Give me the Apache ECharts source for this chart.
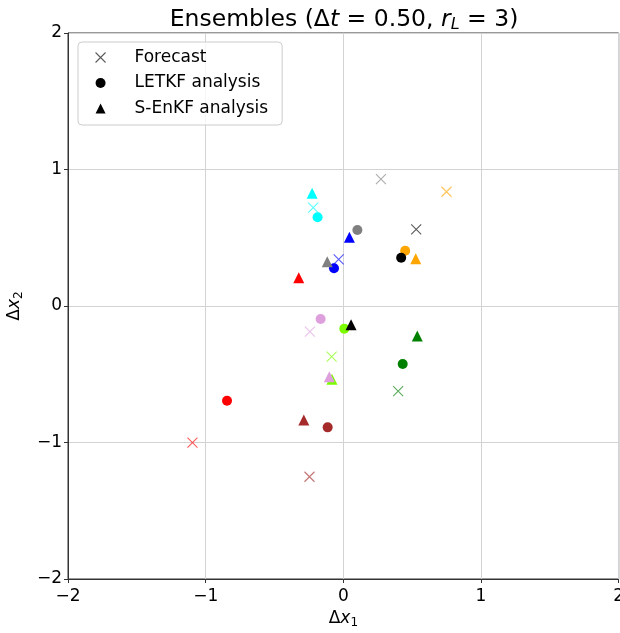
<!DOCTYPE html>
<html>
<head>
<meta charset="utf-8">
<script src="https://cdn.jsdelivr.net/npm/echarts@6/dist/echarts.min.js"></script>
<style>html,body{margin:0;padding:0;background:#fff}#c{width:620px;height:633px}</style>
</head>
<body>
<div id="c"></div>
<script>
const memberColors = ['#ff0000','#a52a2a','#00ffff','#0000ff','#808080','#ffa500','#000000','#008000','#7cfc00','#dda0dd'];
const forecastX = [-1.096, -0.246, -0.219, -0.034, 0.273, 0.749, 0.529, 0.398, -0.085, -0.243];
const forecastY = [-1.001, -1.251, 0.720, 0.342, 0.930, 0.837, 0.562, -0.623, -0.371, -0.188];
const letkfX = [-0.845, -0.114, -0.187, -0.068, 0.102, 0.449, 0.420, 0.431, 0.007, -0.165];
const letkfY = [-0.694, -0.889, 0.650, 0.276, 0.557, 0.405, 0.354, -0.425, -0.166, -0.095];
const senkfX = [-0.324, -0.287, -0.227, 0.044, -0.117, 0.526, 0.056, 0.537, -0.083, -0.102];
const senkfY = [0.207, -0.835, 0.826, 0.503, 0.325, 0.347, -0.137, -0.220, -0.537, -0.518];
const seriesNames = ['Forecast', 'LETKF analysis', 'S-EnKF analysis'];

const FONT = 'DejaVu Sans';
const crossPath = 'path://M0,0L10,10M10,0L0,10';

function hexA(h, a) {
  const r = parseInt(h.slice(1,3),16), g = parseInt(h.slice(3,5),16), b = parseInt(h.slice(5,7),16);
  return 'rgba(' + r + ',' + g + ',' + b + ',' + a + ')';
}

const forecastData = forecastX.map((x, i) => ({
  value: [x, forecastY[i]],
  itemStyle: { color: 'rgba(0,0,0,0)', borderColor: hexA(memberColors[i], 0.65), borderWidth: 1.1, opacity: 1 }
}));
const letkfData = letkfX.map((x, i) => ({
  value: [x, letkfY[i]],
  itemStyle: { color: memberColors[i], opacity: 1 }
}));
const senkfData = senkfX.map((x, i) => ({
  value: [x, senkfY[i]],
  itemStyle: { color: memberColors[i], opacity: 1 }
}));

const fmt = v => (v < 0 ? '\u2212' + Math.abs(v) : String(v));

const nameRich = {
  n: { fontFamily: FONT, fontSize: 17, color: '#000' },
  i: { fontFamily: FONT, fontSize: 17, fontStyle: 'italic', color: '#000' },
  s: { fontFamily: FONT, fontSize: 12, color: '#000', verticalAlign: 'bottom', padding: [8, 0, 0, 0] }
};

const chart = echarts.init(document.getElementById('c'), null, { renderer: 'canvas' });
chart.setOption({
  animation: false,
  backgroundColor: '#ffffff',
  title: {
    text: '{n|Ensembles (\u0394}{i|t}{n| = 0.50, }{i|r}{s|L}{n| = 3)}',
    left: 344, top: 6, textAlign: 'center', padding: 0,
    textStyle: {
      fontFamily: FONT, fontSize: 23.5, fontWeight: 'normal', color: '#000',
      rich: {
        n: { fontFamily: FONT, fontSize: 23.5, color: '#000' },
        i: { fontFamily: FONT, fontSize: 23.5, fontStyle: 'italic', color: '#000' },
        s: { fontFamily: FONT, fontSize: 16, fontStyle: 'italic', color: '#000', verticalAlign: 'bottom', padding: [11, 0, 0, 0] }
      }
    }
  },
  legend: {
    orient: 'vertical', left: 78, top: 42,
    padding: [7, 14, 8, 17], itemGap: 8.5,
    itemWidth: 10, itemHeight: 10,
    backgroundColor: 'rgba(255,255,255,0.8)',
    borderColor: '#cccccc', borderWidth: 1, borderRadius: 4,
    textStyle: { fontFamily: FONT, fontSize: 17, color: '#000', padding: [0, 0, 0, 24] },
    data: [
      { name: seriesNames[0], icon: crossPath, itemStyle: { color: 'rgba(0,0,0,0)', borderColor: 'rgba(0,0,0,0.65)', borderWidth: 1.1 } },
      { name: seriesNames[1], icon: 'circle', itemStyle: { color: '#000' } },
      { name: seriesNames[2], icon: 'triangle', itemStyle: { color: '#000' } }
    ]
  },
  grid: { left: 68, right: 1.3, top: 33, bottom: 54, outerBoundsMode: 'none', containLabel: false,
          show: true, borderColor: '#333', borderWidth: 1, backgroundColor: 'transparent' },
  xAxis: {
    type: 'value', min: -2, max: 2, interval: 1,
    name: '{n|\u0394}{i|x}{s|1}', nameLocation: 'middle', nameGap: 30,
    nameTextStyle: { fontFamily: FONT, fontSize: 17, color: '#000', rich: nameRich },
    axisLine: { show: true, onZero: false, lineStyle: { color: '#333', width: 1 } },
    axisTick: { show: true, inside: false, length: 4, lineStyle: { color: '#333' } },
    axisLabel: { fontFamily: FONT, fontSize: 17, color: '#000', margin: 9, formatter: fmt, showMinLabel: true, showMaxLabel: true, hideOverlap: false },
    splitLine: { show: true, lineStyle: { color: '#d3d3d3', width: 1 } }
  },
  yAxis: {
    type: 'value', min: -2, max: 2, interval: 1,
    name: '{n|\u0394}{i|x}{s|2}', nameLocation: 'middle', nameGap: 43, nameRotate: 90,
    nameTextStyle: { fontFamily: FONT, fontSize: 17, color: '#000', rich: nameRich },
    axisLine: { show: true, onZero: false, lineStyle: { color: '#333', width: 1 } },
    axisTick: { show: true, inside: false, length: 4, lineStyle: { color: '#333' } },
    axisLabel: { fontFamily: FONT, fontSize: 17, color: '#000', margin: 6, formatter: fmt, showMinLabel: true, showMaxLabel: true, hideOverlap: false },
    splitLine: { show: true, lineStyle: { color: '#d3d3d3', width: 1 } }
  },
  series: [
    { name: seriesNames[0], type: 'scatter', symbol: crossPath, symbolSize: 10, symbolKeepAspect: true,
      itemStyle: { color: 'rgba(0,0,0,0)', borderColor: 'rgba(0,0,0,0.65)', borderWidth: 1.1, opacity: 1 },
      data: forecastData, z: 3 },
    { name: seriesNames[1], type: 'scatter', symbol: 'circle', symbolSize: 10,
      itemStyle: { color: '#000', opacity: 1 }, data: letkfData, z: 4 },
    { name: seriesNames[2], type: 'scatter', symbol: 'triangle', symbolSize: 11,
      itemStyle: { color: '#000', opacity: 1 }, data: senkfData, z: 5 }
  ]
});
</script>
</body>
</html>
